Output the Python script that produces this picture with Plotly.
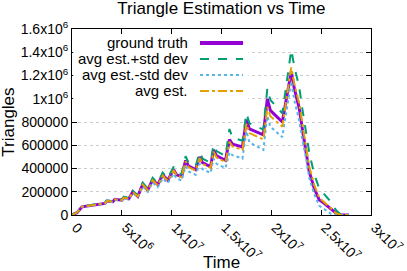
import plotly.graph_objects as go

# time in units of 1e6
time_m = [0.0, 0.5, 1.0, 2.0, 3.0, 3.3, 3.5, 4.1, 4.3, 5.0, 5.2, 5.7, 6.1, 6.6, 7.1, 7.6,
          8.1, 8.6, 9.1, 9.6, 10.2, 10.5, 11.0, 11.4, 11.7, 12.4, 12.8, 13.1, 13.9, 14.2,
          14.5, 15.4, 15.8, 16.1, 17.1, 17.5, 17.8, 19.2, 19.6, 19.9, 21.1, 22.0, 22.3,
          22.8, 23.1, 23.5, 23.8, 24.3, 24.8, 25.3, 26.0, 26.5, 27.0, 27.8]
# values in thousands
ground_truth = [0, 20, 70, 85, 95, 100, 120, 115, 135, 128, 150, 140, 200, 160, 265, 215,
                305, 260, 345, 300, 390, 345, 330, 470, 420, 390, 500, 450, 415, 560,
                510, 470, 650, 610, 585, 820, 740, 690, 1000, 900, 800, 1235, 1090,
                920, 745, 545, 375, 230, 130, 100, 50, 15, 0, 0]
avg_plus_std = [0, 23, 74, 89, 99, 104, 125, 121, 140, 133, 157, 147, 208, 168, 278, 226,
                320, 273, 365, 316, 415, 367, 352, 505, 450, 418, 540, 486, 448, 605,
                550, 507, 740, 665, 640, 875, 790, 735, 1090, 990, 875, 1420, 1280,
                1100, 920, 720, 540, 350, 230, 180, 110, 40, 0, 0]
avg_minus_std = [0, 21, 70, 83, 92, 96, 115, 111, 128, 121, 143, 133, 188, 152, 246, 200,
                 280, 239, 315, 274, 355, 313, 298, 420, 374, 346, 440, 394, 362, 485,
                 440, 403, 540, 515, 485, 720, 625, 560, 850, 760, 670, 1150, 990,
                 810, 650, 480, 320, 180, 80, 50, 10, 0, 0, 0]
avg_est = [0, 22, 72, 86, 96, 100, 120, 116, 134, 127, 150, 140, 198, 160, 262, 213,
           300, 256, 340, 295, 385, 340, 325, 462, 412, 382, 490, 440, 405, 545,
           495, 455, 630, 590, 560, 785, 705, 650, 930, 850, 760, 1270, 1130,
           960, 790, 590, 420, 260, 150, 110, 55, 15, 0, 0]

x_tickvals = [0, 5e6, 1e7, 1.5e7, 2e7, 2.5e7, 3e7]
x_ticktext = ["0", "5x10<sup>6</sup>", "1x10<sup>7</sup>", "1.5x10<sup>7</sup>",
              "2x10<sup>7</sup>", "2.5x10<sup>7</sup>", "3x10<sup>7</sup>"]
y_tickvals = [0, 2e5, 4e5, 6e5, 8e5, 1e6, 1.2e6, 1.4e6, 1.6e6]
y_ticktext = ["0", "200000", "400000", "600000", "800000", "1x10<sup>6</sup>",
              "1.2x10<sup>6</sup>", "1.4x10<sup>6</sup>", "1.6x10<sup>6</sup>"]

names = ["ground truth", "avg est.+std dev", "avg est.-std dev", "avg est."]
colors = ["#9400d3", "#009e73", "#56b4e9", "#e69f00"]
dashes = ["solid", "dash", "dot", "dashdot"]
widths = [3, 2, 2, 2]
series = [ground_truth, avg_plus_std, avg_minus_std, avg_est]

t = [v * 1e6 for v in time_m]
fig = go.Figure()
for s, n, c, d, w in zip(series, names, colors, dashes, widths):
    fig.add_trace(go.Scatter(x=t, y=[v * 1e3 for v in s], mode="lines", name=n,
                             line=dict(color=c, dash=d, width=w), showlegend=False))

FONT = "Liberation Sans, Arial, sans-serif"
fig.update_layout(
    width=407, height=271,
    margin=dict(l=72, r=36, t=29, b=56),
    plot_bgcolor="white", paper_bgcolor="white",
    font=dict(family=FONT, size=14, color="black"),
    title=dict(text="Triangle Estimation vs Time", x=0.544, xanchor="center",
               y=0.97, yanchor="middle", font=dict(size=17, family=FONT)),
)
fig.update_xaxes(range=[0, 3e7], tickvals=x_tickvals, ticktext=x_ticktext, tickangle=45,
                 showgrid=False, zeroline=False, showline=True, linecolor="black",
                 linewidth=1, mirror="ticks", ticks="inside", ticklen=5, tickcolor="black",
                 automargin=False, tickfont=dict(size=14), ticklabelshift=4,
                 ticklabelstandoff=-2)
fig.update_yaxes(range=[0, 1.6e6], tickvals=y_tickvals, ticktext=y_ticktext,
                 showgrid=True, gridcolor="#cccccc", griddash="dot", gridwidth=1,
                 zeroline=False, showline=True, linecolor="black", linewidth=1,
                 mirror="ticks", ticks="inside", ticklen=5, tickcolor="black",
                 automargin=False, tickfont=dict(size=14))

# axis titles
fig.add_annotation(text="Time", xref="paper", yref="paper", x=0.5, y=-0.258,
                   showarrow=False, font=dict(size=17), yanchor="middle")
fig.add_annotation(text="Triangles", xref="paper", yref="paper", x=-0.215, y=0.5,
                   showarrow=False, font=dict(size=17), textangle=-90, xanchor="center")

# key box
fig.add_shape(type="rect", xref="paper", yref="paper", x0=0.004, x1=0.59, y0=0.62, y1=0.965,
              fillcolor="white", line=dict(width=0), layer="above")
rows_y = [0.925, 0.839, 0.753, 0.667]
for n, c, d, w, yy in zip(names, colors, dashes, widths, rows_y):
    fig.add_shape(type="line", xref="paper", yref="paper", x0=0.428, x1=0.572, y0=yy, y1=yy,
                  line=dict(color=c, dash=d, width=w + 1 if w > 2 else w), layer="above")
    fig.add_annotation(text=n, xref="paper", yref="paper", x=0.395, y=yy, xanchor="right",
                       yanchor="middle", showarrow=False, font=dict(size=15))

fig.write_html("out.html", config={"displayModeBar": False},
               post_script="document.body.style.margin='0';document.body.style.overflow='hidden';")
